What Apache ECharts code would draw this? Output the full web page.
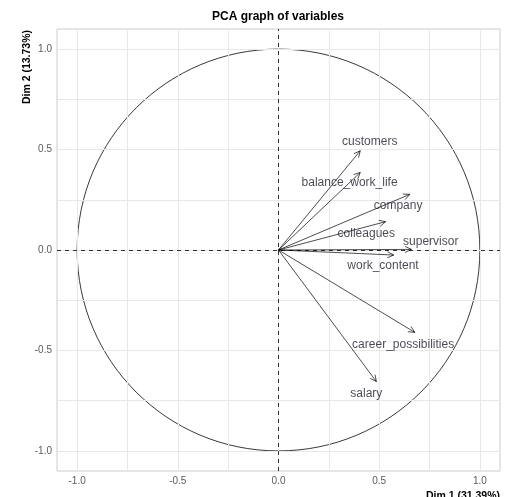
<!DOCTYPE html>
<html>
<head>
<meta charset="utf-8">
<script src="https://cdn.jsdelivr.net/npm/echarts@6/dist/echarts.min.js"></script>
<style>html,body{margin:0;padding:0;background:#fff;}#chart{width:506px;height:497px;}</style>
</head>
<body>
<div id="chart"></div>
<script>
const variables = ['customers','balance_work_life','company','colleagues','supervisor','work_content','career_possibilities','salary'];
const dim1 = [0.406, 0.406, 0.652, 0.532, 0.660, 0.572, 0.677, 0.486];
const dim2 = [0.494, 0.386, 0.277, 0.141, 0.003, -0.025, -0.410, -0.655];
const labelX = [0.453, 0.353, 0.594, 0.436, 0.756, 0.519, 0.619, 0.436];
const labelY = [0.539, 0.335, 0.219, 0.083, 0.041, -0.080, -0.473, -0.713];
const majorTicks = [-1, -0.5, 0, 0.5, 1];
const gridBreaks = [-1, -0.75, -0.5, -0.25, 0, 0.25, 0.5, 0.75, 1];
const titleText = 'PCA graph of variables';
const xTitle = 'Dim 1 (31.39%)';
const yTitle = 'Dim 2 (13.73%)';

const chart = echarts.init(document.getElementById('chart'), null, {renderer: 'canvas'});
const FONT = 'Liberation Sans, Arial, sans-serif';

const axisCommon = {
  type: 'value', min: -1.1, max: 1.1,
  splitLine: {show: false},
  axisLine: {show: false},
  axisTick: {show: true, customValues: majorTicks, length: 3, lineStyle: {color: '#555', width: 1}},
  axisLabel: {customValues: majorTicks, formatter: v => v.toFixed(1), color: '#5a5a5a', fontSize: 10, fontFamily: FONT, margin: 5}
};

chart.setOption({
  animation: false,
  title: {text: titleText, left: 278, top: 11, padding: 0, textAlign: 'center',
    textStyle: {fontSize: 12, fontWeight: 'bold', color: '#000', fontFamily: FONT}},
  grid: {left: 57, top: 29, right: 6, bottom: 26, show: true, borderColor: '#cccccc', borderWidth: 1},
  xAxis: Object.assign({}, axisCommon),
  yAxis: Object.assign({}, axisCommon),
  graphic: [
    {type: 'text', x: 27, y: 30, rotation: Math.PI / 2,
      style: {text: yTitle, textAlign: 'right', textVerticalAlign: 'middle', font: 'bold 10.5px ' + FONT, fill: '#000'}},
    {type: 'text', x: 500, y: 491,
      style: {text: xTitle, textAlign: 'right', textVerticalAlign: 'top', font: 'bold 10.5px ' + FONT, fill: '#000'}}
  ],
  series: [
    {
      type: 'scatter', data: [], silent: true, z: 1,
      markLine: {
        silent: true, symbol: 'none', label: {show: false}, animation: false,
        lineStyle: {color: '#e8e8e8', width: 1, type: 'solid'},
        data: gridBreaks.map(v => ({xAxis: v})).concat(gridBreaks.map(v => ({yAxis: v})))
      }
    },
    {
      type: 'scatter', data: [], silent: true, z: 3,
      markLine: {
        silent: true, symbol: 'none', label: {show: false}, animation: false,
        lineStyle: {color: '#000', width: 0.8, type: [4, 4]},
        data: [{xAxis: 0}, {yAxis: 0}]
      }
    },
    {
      type: 'custom', silent: true, z: 4,
      data: [[0, 0, 1]],
      renderItem: function (params, api) {
        const c = api.coord([api.value(0), api.value(1)]);
        const r = api.size([api.value(2), api.value(2)]);
        return {type: 'ellipse', shape: {cx: c[0], cy: c[1], rx: r[0], ry: r[1]},
          style: {stroke: '#222', fill: null, lineWidth: 0.9}};
      }
    },
    {
      type: 'custom', silent: true, z: 5,
      data: dim1.map((v, i) => [v, dim2[i]]),
      renderItem: function (params, api) {
        const p0 = api.coord([0, 0]);
        const p1 = api.coord([api.value(0), api.value(1)]);
        const ang = Math.atan2(p1[1] - p0[1], p1[0] - p0[0]);
        const L = 7, a = Math.PI / 7;
        const h1 = [p1[0] - L * Math.cos(ang - a), p1[1] - L * Math.sin(ang - a)];
        const h2 = [p1[0] - L * Math.cos(ang + a), p1[1] - L * Math.sin(ang + a)];
        return {type: 'group', children: [
          {type: 'line', shape: {x1: p0[0], y1: p0[1], x2: p1[0], y2: p1[1]}, style: {stroke: '#000', lineWidth: 0.7}},
          {type: 'polyline', shape: {points: [h1, p1, h2]}, style: {stroke: '#000', fill: null, lineWidth: 0.7}}
        ]};
      }
    },
    {
      type: 'scatter', silent: true, z: 6, symbolSize: 0,
      data: variables.map((n, i) => ({name: n, value: [labelX[i], labelY[i]]})),
      label: {show: true, position: 'inside', formatter: '{b}', fontSize: 12, color: '#1a1a2a', fontFamily: FONT}
    }
  ]
});
</script>
</body>
</html>
